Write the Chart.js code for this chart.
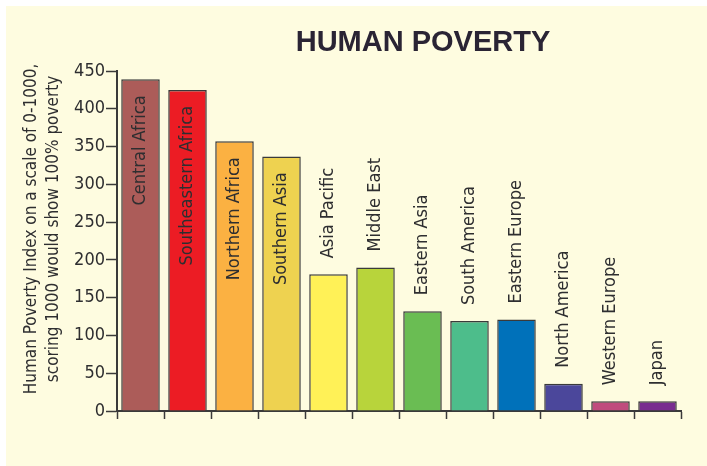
<!DOCTYPE html>
<html>
<head>
<meta charset="utf-8">
<title>Human Poverty</title>
<script src="https://cdn.jsdelivr.net/npm/chart.js@4.4.1/dist/chart.umd.min.js"></script>
<style>
  html, body { margin: 0; padding: 0; background: #fff; }
  #wrap { width: 707px; height: 466px; }
</style>
</head>
<body>
<div id="wrap"><canvas id="poverty-chart" width="707" height="466"></canvas></div>
<script>
const regions = ['Central Africa', 'Southeastern Africa', 'Northern Africa', 'Southern Asia',
    'Asia Pacific', 'Middle East', 'Eastern Asia', 'South America', 'Eastern Europe',
    'North America', 'Western Europe', 'Japan'];
const povertyIndex = [439, 425, 357, 337, 181, 190, 132, 119, 121, 36, 13, 13];
const barColors = ['#ac5c59', '#ec1c24', '#fbb142', '#eed250', '#fff157', '#b8d43b',
    '#6abd53', '#4dbd8b', '#0071ba', '#4b479b', '#c04b7d', '#792c8f'];
const yTicks = [0, 50, 100, 150, 200, 250, 300, 350, 400, 450];
const chartTitle = 'HUMAN POVERTY';
const yTitle = ['Human Poverty Index on a scale of 0-1000,', 'scoring 1000 would show 100% poverty'];

const narrow = '"Liberation Sans Narrow", "DejaVu Sans Condensed", "Roboto", sans-serif';
const ink = '#2e2e30';

// background panel, title and y-axis caption
const decorations = {
    id: 'decorations',
    beforeDraw(chart) {
        const ctx = chart.ctx;
        ctx.save();
        ctx.fillStyle = '#ffffff';
        ctx.fillRect(0, 0, chart.width, chart.height);
        ctx.fillStyle = '#fefce0';
        ctx.fillRect(6, 6, chart.width - 6, chart.height - 6);
        ctx.restore();
    },
    afterDraw(chart) {
        const ctx = chart.ctx;
        ctx.save();
        ctx.fillStyle = '#2a2434';
        ctx.font = 'bold 29px "Liberation Sans", Arial, sans-serif';
        ctx.textAlign = 'center';
        ctx.textBaseline = 'middle';
        ctx.fillText(chartTitle, 423, 43);

        ctx.fillStyle = ink;
        ctx.font = '17px ' + narrow;
        ctx.translate(0, 229);
        ctx.rotate(-Math.PI / 2);
        ctx.fillText(yTitle[0], 0, 32);
        ctx.fillText(yTitle[1], 0, 54);
        ctx.restore();
    }
};

// region names written along the bars
const barLabels = {
    id: 'barLabels',
    afterDatasetsDraw(chart) {
        const ctx = chart.ctx;
        const meta = chart.getDatasetMeta(0);
        ctx.save();
        ctx.fillStyle = ink;
        ctx.font = '18px ' + narrow;
        ctx.textBaseline = 'middle';
        meta.data.forEach((bar, i) => {
            const inside = povertyIndex[i] > 300;
            ctx.save();
            if (inside) {
                ctx.translate(bar.x, bar.y + 16);
                ctx.rotate(-Math.PI / 2);
                ctx.textAlign = 'right';
            } else {
                ctx.translate(bar.x, bar.y - 16);
                ctx.rotate(-Math.PI / 2);
                ctx.textAlign = 'left';
            }
            ctx.fillText(regions[i], 0, 0);
            ctx.restore();
        });
        ctx.restore();
    }
};

const ctx = document.getElementById('poverty-chart').getContext('2d');
new Chart(ctx, {
    type: 'bar',
    data: {
        labels: regions,
        datasets: [{
            data: povertyIndex,
            backgroundColor: barColors,
            borderColor: '#3a3a3a',
            borderWidth: 1.5,
            categoryPercentage: 0.82,
            barPercentage: 1
        }]
    },
    options: {
        responsive: false,
        animation: false,
        devicePixelRatio: 1,
        layout: { padding: { top: 71, right: 26, bottom: 0, left: 0 } },
        plugins: {
            legend: { display: false },
            tooltip: { enabled: false },
            title: { display: false }
        },
        scales: {
            x: {
                grid: {
                    offset: true,
                    drawOnChartArea: false,
                    color: '#3a3a3a',
                    tickLength: 8,
                    tickWidth: 1.5
                },
                border: { color: '#3a3a3a', width: 2 },
                ticks: { display: false },
                afterFit(scale) { scale.height = 55; }
            },
            y: {
                min: 0,
                max: 450,
                afterBuildTicks(scale) { scale.ticks = yTicks.map(v => ({ value: v })); },
                grid: {
                    drawOnChartArea: false,
                    color: '#3a3a3a',
                    tickLength: 11,
                    tickWidth: 1.5
                },
                border: { color: '#3a3a3a', width: 2 },
                ticks: {
                    color: ink,
                    padding: 1,
                    font: { family: narrow, size: 18 }
                },
                afterFit(scale) { scale.width = 117; }
            }
        }
    },
    plugins: [decorations, barLabels]
});
</script>
</body>
</html>
